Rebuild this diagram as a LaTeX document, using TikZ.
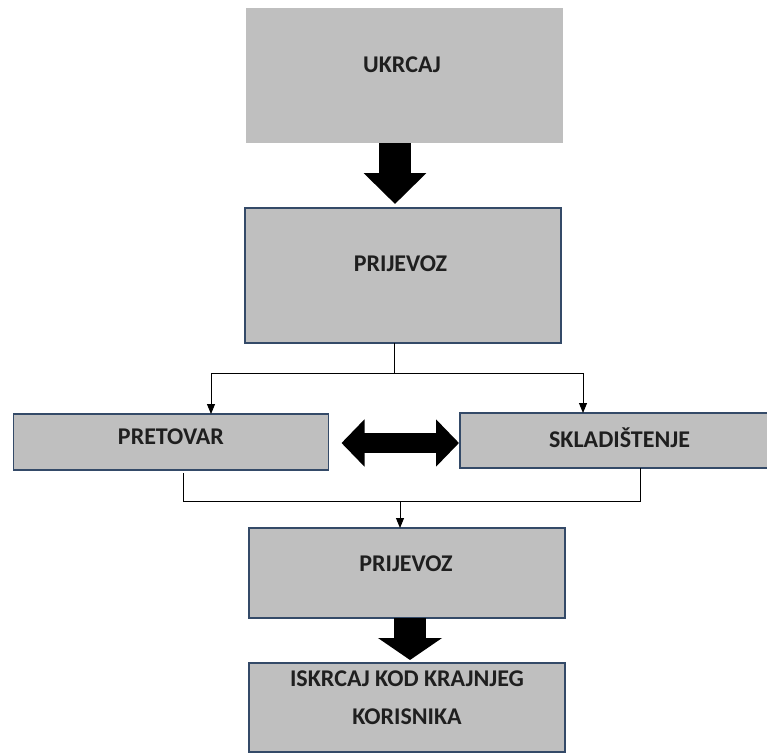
\documentclass[tikz,border=0pt]{standalone}
\usepackage{fontspec}
\setmainfont{Carlito}
\usetikzlibrary{arrows.meta, positioning}
\definecolor{boxgray}{RGB}{191,191,191}
\definecolor{boxline}{RGB}{52,74,104}

\begin{document}
\begin{tikzpicture}[
    x=1pt, y=-1pt,
    box/.style={rectangle, draw=boxline, line width=1.2pt, fill=boxgray, inner sep=0pt, outer sep=0pt},
    plainbox/.style={box, draw=none},
    lbl/.style={font=\fontsize{24}{38}\selectfont\bfseries, text=black!88, align=center},
    link/.style={line width=0.9pt},
    arrow/.style={link, -{Triangle[width=8pt,length=10pt]}},
    bigarrow/.style={line width=32pt, -{Triangle[width=61pt,length=31pt]}},
    dblarrow/.style={line width=20pt, {Triangle[width=46pt,length=23pt]}-{Triangle[width=46pt,length=23pt]}}
]
\useasboundingbox (0,0) rectangle (767,755);

% Boxes
\node[plainbox, minimum width=317pt, minimum height=135pt,
      label={[lbl, xshift=-2.5pt, yshift=10.5pt]center:UKRCAJ}] (ukrcaj) at (404.5,75.5) {};
\node[box, minimum width=316pt, minimum height=135pt,
      label={[lbl, xshift=-2.5pt, yshift=12pt]center:PRIJEVOZ}] (prijevoz1) at (403,275.5) {};
\node[box, minimum width=315pt, minimum height=56pt,
      label={[lbl, yshift=5pt]center:PRETOVAR}] (pretovar) at (171,442) {};
\node[box, minimum width=308pt, minimum height=55pt,
      label={[lbl, xshift=5.5pt, yshift=2.5pt]center:SKLADIŠTENJE}] (skladistenje) at (614,440.5) {};
\node[box, minimum width=316pt, minimum height=90pt,
      label={[lbl, xshift=-1pt, yshift=9.5pt]center:PRIJEVOZ}] (prijevoz2) at (407,573) {};
\node[box, minimum width=316pt, minimum height=89pt,
      label={[lbl, yshift=10pt]center:ISKRCAJ KOD KRAJNJEG\\KORISNIKA}] (iskrcaj) at (407,707.5) {};

% Block arrows
\draw[bigarrow] ([xshift=-9.5pt]ukrcaj.south) -- ([xshift=-8pt,yshift=4pt]prijevoz1.north);
\draw[bigarrow, -{Triangle[width=63pt,length=22pt]}] ([xshift=3pt]prijevoz2.south) -- ([xshift=3pt,yshift=3pt]iskrcaj.north);
\coordinate (dl) at ([xshift=13pt,yshift=-1pt]pretovar.east);
\draw[dblarrow] (dl) -- ([xshift=-1pt]dl -| skladistenje.west);

% Split to the middle row
\coordinate (split) at (394,373);
\draw[link] (prijevoz1.south -| split) -- (split);
\draw[arrow] (split) -| ([xshift=40pt]pretovar.north);
\draw[arrow] (split) -| ([xshift=-31pt]skladistenje.north);

% Merge into the second transport
\coordinate (merge) at (400,501);
\draw[link] ([xshift=12pt,yshift=-3pt]pretovar.south) |- (merge) -| ([xshift=26pt]skladistenje.south);
\draw[arrow] (merge) -- (prijevoz2.north -| merge);

\end{tikzpicture}
\end{document}
